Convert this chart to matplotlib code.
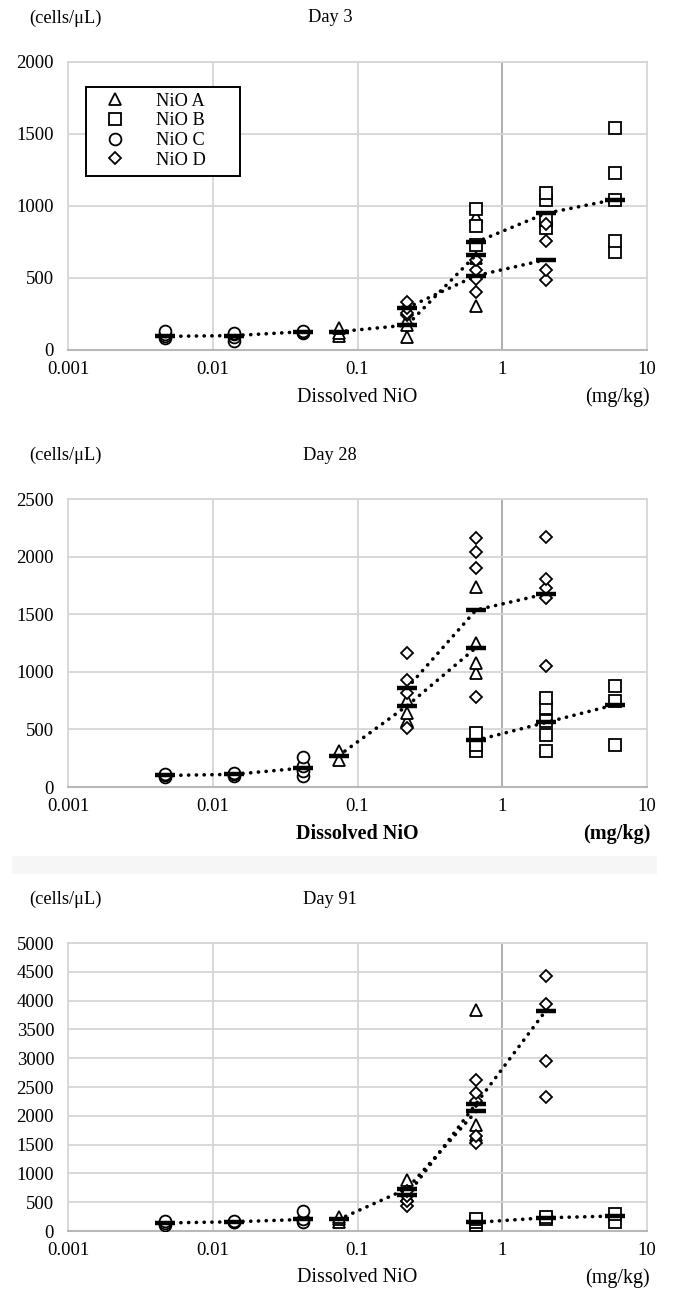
import matplotlib
matplotlib.use("Agg")
import matplotlib.pyplot as plt
from matplotlib.lines import Line2D
from matplotlib.patches import Rectangle

plt.rcParams['font.family'] = ['Liberation Serif', 'DejaVu Serif']

# ---------------- data ----------------
doses_C = [0.0047, 0.014, 0.042]
doses_A = [0.074, 0.22, 0.66]
doses_D = [0.22, 0.66, 2.0]
doses_B = [0.66, 2.0, 6.0]

group_names = ["NiO A", "NiO B", "NiO C", "NiO D"]
x_tick_labels = ["0.001", "0.01", "0.1", "1", "10"]

# Day 3 individual values (per dose) and group means
d3_A_pts = [[100, 120, 150], [90, 173, 210], [309, 640, 926]]
d3_B_pts = [[730, 862, 977], [846, 903, 1042, 1088], [684, 760, 1041, 1230, 1540]]
d3_C_pts = [[80, 100, 110, 130], [60, 90, 110, 115], [115, 125, 135]]
d3_D_pts = [[240, 258, 293, 335], [401, 493, 553, 627], [488, 553, 760, 876]]
d3_A_mean = [127, 173, 661]
d3_B_mean = [749, 949, 1045]
d3_C_mean = [95, 100, 127]
d3_D_mean = [293, 516, 627]

# Day 28
d28_A_pts = [[237, 309], [570, 642, 757], [988, 1075, 1248, 1738]]
d28_B_pts = [[309, 367, 468], [309, 454, 569, 685, 772], [367, 743, 881]]
d28_C_pts = [[90, 100, 110], [95, 110, 125], [92, 136, 179, 260]]
d28_D_pts = [[512, 815, 931, 1162], [777, 1904, 2037, 2165], [1052, 1639, 1725, 1803, 2173]]
d28_A_mean = [272, 705, 1210]
d28_B_mean = [405, 560, 714]
d28_C_mean = [100, 110, 165]
d28_D_mean = [858, 1537, 1676]

# Day 91
d91_A_pts = [[150, 200, 250], [600, 720, 894], [1673, 1835, 3837]]
d91_B_pts = [[100, 150, 200], [210, 240], [160, 290]]
d91_C_pts = [[100, 140, 170], [150, 160, 170], [150, 200, 350]]
d91_D_pts = [[433, 520, 606, 700], [1529, 1645, 2250, 2395, 2614], [2320, 2960, 3941, 4426]]
d91_A_mean = [200, 733, 2077]
d91_B_mean = [150, 230, 260]
d91_C_mean = [140, 160, 200]
d91_D_mean = [617, 2210, 3826]

panels = [
    ("Day 3", 2000, 500,
     [(doses_A, d3_A_pts, d3_A_mean), (doses_B, d3_B_pts, d3_B_mean),
      (doses_C, d3_C_pts, d3_C_mean), (doses_D, d3_D_pts, d3_D_mean)], False),
    ("Day 28", 2500, 500,
     [(doses_A, d28_A_pts, d28_A_mean), (doses_B, d28_B_pts, d28_B_mean),
      (doses_C, d28_C_pts, d28_C_mean), (doses_D, d28_D_pts, d28_D_mean)], True),
    ("Day 91", 5000, 500,
     [(doses_A, d91_A_pts, d91_A_mean), (doses_B, d91_B_pts, d91_B_mean),
      (doses_C, d91_C_pts, d91_C_mean), (doses_D, d91_D_pts, d91_D_mean)], False),
]

markers = ['^', 's', 'o', 'D']
msizes = [8.5, 8.5, 8.5, 6.5]

W, H = 673, 1293
fig = plt.figure(figsize=(W / 100, H / 100), dpi=100)

# faint separator band between panel 2 and 3
fig.patches.append(Rectangle((12 / W, 1 - 874 / H), 645 / W, 18 / H,
                             transform=fig.transFigure, facecolor='#f6f6f6',
                             edgecolor='none', zorder=0))

tops = [62, 499, 943]
ax_left, ax_right = 68, 647
ax_h = 288

grid_c = '#d6d6d6'
dark_c = '#a8a8a8'
fs_tick = 13.5
fs_lab = 14.5
fs_head = 13.2

for (title, ymax, ystep, groups, bold), top in zip(panels, tops):
    bottom = top + ax_h
    ax = fig.add_axes([ax_left / W, 1 - bottom / H, (ax_right - ax_left) / W, ax_h / H])
    ax.set_xscale('log')
    ax.set_xlim(0.001, 10)
    ax.set_ylim(0, ymax)
    ax.set_yticks(range(0, ymax + 1, ystep))
    ax.set_xticks([0.001, 0.01, 0.1, 1, 10])
    ax.set_xticklabels(x_tick_labels)
    ax.minorticks_off()
    ax.tick_params(length=0, labelsize=fs_tick)
    ax.tick_params(axis='y', pad=10)
    ax.tick_params(axis='x', pad=8)
    ax.yaxis.grid(True, color=grid_c, lw=1.3)
    ax.set_axisbelow(True)
    for xv in [0.01, 0.1]:
        ax.axvline(xv, color=grid_c, lw=1.3, zorder=0)
    ax.axvline(1, color=dark_c, lw=1.3, zorder=0)
    for s in ['top', 'right', 'left']:
        ax.spines[s].set_color(grid_c)
        ax.spines[s].set_linewidth(1.3)
    ax.spines['bottom'].set_color('#b8b8b8')
    ax.spines['bottom'].set_linewidth(1.5)

    fw = 'bold' if bold else 'normal'
    for (doses, pts, means), mk, ms in zip(groups, markers, msizes):
        for d, vals in zip(doses, pts):
            ax.plot([d] * len(vals), vals, linestyle='none', marker=mk, ms=ms,
                    mfc='white', mec='black', mew=1.3, zorder=3)
        ax.plot(doses, means, linestyle=(0, (0.05, 2.1)), color='black', lw=2.6,
                dash_capstyle='round', zorder=4)
        ax.plot(doses, means, linestyle='none', marker='_', ms=15, mew=3.2,
                color='black', zorder=5)

    fig.text(357 / W, 1 - (bottom + 47) / H, "Dissolved NiO", ha='center', va='center',
             fontsize=fs_lab, fontweight=fw)
    fig.text(617 / W, 1 - (bottom + 47) / H, "(mg/kg)", ha='center', va='center',
             fontsize=fs_lab, fontweight=fw)
    fig.text(65 / W, 1 - (top - 44) / H, "(cells/\u03bcL)", ha='center', va='center',
             fontsize=fs_head)
    fig.text(330 / W, 1 - (top - 44) / H, title, ha='center', va='center',
             fontsize=fs_head)

    if title == "Day 3":
        # legend frame (box 86..240 px wide, 87..176 px tall in figure pixels)
        bx0 = (86 - ax_left) / (ax_right - ax_left)
        bx1 = (240 - ax_left) / (ax_right - ax_left)
        by1 = (bottom - 87) / ax_h
        by0 = (bottom - 176) / ax_h
        ax.add_patch(Rectangle((bx0, by0), bx1 - bx0, by1 - by0, transform=ax.transAxes,
                               facecolor='white', edgecolor='black', lw=1.4, zorder=6))
        handles = [Line2D([], [], linestyle='none', marker=m, ms=s, mfc='white',
                          mec='black', mew=1.3) for m, s in zip(markers, msizes)]
        leg = ax.legend(handles, group_names, loc='upper left',
                        bbox_to_anchor=(bx0, by1), fontsize=13.2,
                        frameon=False, handlelength=2.6, handletextpad=0.9,
                        borderpad=0.3, labelspacing=0.15, borderaxespad=0)
        leg.set_zorder(7)

fig.savefig("out.png", dpi=100)
